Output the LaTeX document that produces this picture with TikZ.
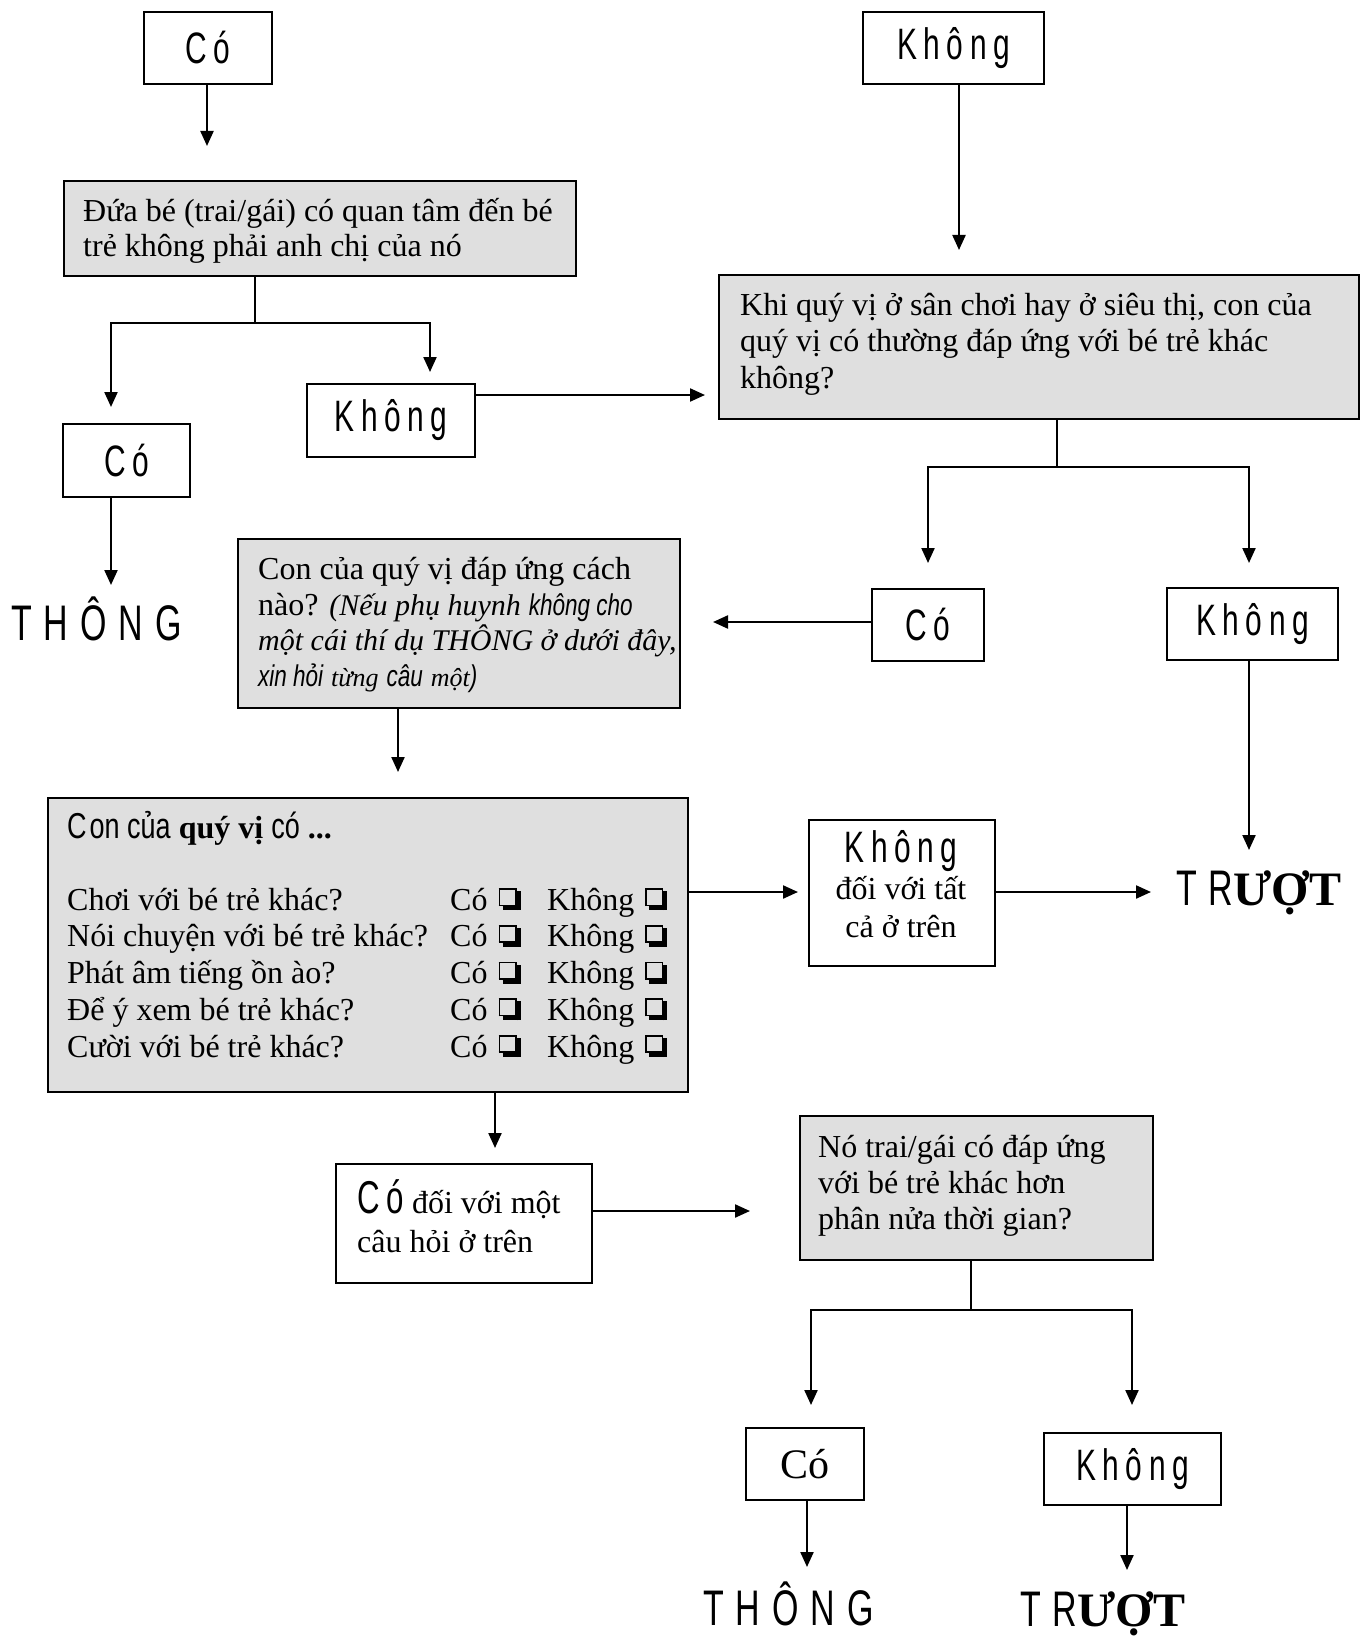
\documentclass[tikz,border=0pt]{standalone}
\usepackage{fontspec}
\setmainfont{Liberation Serif}
\newfontfamily\lblfont[FakeStretch=0.68,LetterSpace=15]{Liberation Sans}
\newfontfamily\bigfont[FakeStretch=0.68,LetterSpace=24]{Liberation Sans}
\newfontfamily\condfont[FakeStretch=0.75]{Liberation Sans}
\usetikzlibrary{arrows.meta}
\definecolor{boxgray}{RGB}{223,223,223}
\newcommand{\myfs}[2]{\fontsize{#1pt}{#2pt}\selectfont}
\newcommand{\chk}{{\hspace{3pt}\setlength{\unitlength}{1pt}\begin{picture}(23,21)
\put(0,4){\rule{18pt}{1.6pt}}
\put(0,20.4){\rule{18pt}{1.6pt}}
\put(0,4){\rule{1.6pt}{18pt}}
\put(16.4,4){\rule{1.6pt}{18pt}}
\put(18,0){\rule{4pt}{19pt}}
\put(4,0){\rule{18pt}{4pt}}
\end{picture}}}
\newcommand{\qrow}[1]{\makebox[383pt][l]{#1}\makebox[97pt][l]{Có \chk}Không \chk}

\begin{document}
\begin{tikzpicture}[x=1pt,y=-1pt,
  box/.style={draw, line width=2pt, inner sep=0pt, anchor=north west},
  gbox/.style={box, fill=boxgray},
  lbl/.style={font=\lblfont\myfs{44}{44}},
  conn/.style={line width=2.2pt},
  arr/.style={conn, -{Triangle[length=15pt,width=13pt]}},
  txt/.style={inner sep=0pt, anchor=base west, align=left},
]
\useasboundingbox (0,0) rectangle (1361,1637);
\fill[white] (0,0) rectangle (1361,1637);

% ---- boxes ----
\node[box, lbl, minimum width=128pt, minimum height=72pt] (co1) at (143,11) {Có};
\node[box, lbl, minimum width=181pt, minimum height=72pt] (kh1) at (862,11) {Không};
\node[gbox, minimum width=512pt, minimum height=95pt] (g1) at (63,180) {};
\node[box, lbl, minimum width=127pt, minimum height=73pt] (co2) at (62,423) {Có};
\node[box, lbl, minimum width=168pt, minimum height=73pt] (kh2) at (306,383) {Không};
\node[gbox, minimum width=640pt, minimum height=144pt] (g2) at (718,274) {};
\node[box, lbl, minimum width=112pt, minimum height=72pt] (co3) at (871,588) {Có};
\node[box, lbl, minimum width=171pt, minimum height=72pt] (kh3) at (1166,587) {Không};
\node[gbox, minimum width=442pt, minimum height=169pt] (g3) at (237,538) {};
\node[gbox, minimum width=640pt, minimum height=294pt] (g4) at (47,797) {};
\node[box, minimum width=186pt, minimum height=146pt] (kh4) at (808,819) {};
\node[box, minimum width=256pt, minimum height=119pt] (co5) at (335,1163) {};
\node[gbox, minimum width=353pt, minimum height=144pt] (g5) at (799,1115) {};
\node[box, font=\myfs{42}{42}, minimum width=118pt, minimum height=72pt] (co6) at (745,1427) {Có};
\node[box, lbl, minimum width=177pt, minimum height=72pt] (kh6) at (1043,1432) {Không};

% ---- texts (anchored at the baseline of their last line) ----
\node[txt, font=\myfs{32}{35}] (g1t) at (83,256) {Đứa bé (trai/gái) có quan tâm đến bé\\trẻ không phải anh chị của nó};
\node[txt, font=\myfs{32}{36.5}] (g2t) at (740,388) {Khi quý vị ở sân chơi hay ở siêu thị, con của\\quý vị có thường đáp ứng với bé trẻ khác\\không?};
\node[txt, font=\myfs{32}{35.5}] (g3t) at (258,686) {Con của quý vị đáp ứng cách\\
nào? {\itshape\myfs{30}{35.5}(Nếu phụ huynh} {\condfont\itshape\myfs{30}{35.5}không cho}\\
{\itshape\myfs{30}{35.5}một cái thí dụ THÔNG ở dưới đây,}\\
{\condfont\itshape\myfs{30}{35.5}xin hỏi} {\itshape\myfs{26}{35.5}từng} {\condfont\itshape\myfs{30}{35.5}câu} {\itshape\myfs{26}{35.5}một}{\condfont\itshape\myfs{30}{35.5})}};
\node[txt, font=\myfs{32}{36.7}] (g4h) at (67,838) {{\condfont\myfs{36}{36}C\kern3pt on của} {\bfseries quý vị} {\condfont\myfs{36}{36}có} {\bfseries ...}};
\node[txt, font=\myfs{32}{36.7}] (g4r) at (67,1057) {\qrow{Chơi với bé trẻ khác?}\\\qrow{Nói chuyện với bé trẻ khác?}\\\qrow{Phát âm tiếng ồn ào?}\\\qrow{Để ý xem bé trẻ khác?}\\\qrow{Cười với bé trẻ khác?}};
\node[inner sep=0pt, anchor=base, align=center, font=\myfs{32}{37.5}] (kh4t) at (901,937) {{\lblfont\myfs{44}{44}Không}\\đối với tất\\cả ở trên};
\node[txt, font=\myfs{32}{39}] (co5t) at (357,1252) {{\lblfont\myfs{46}{46}Có} đối với một\\câu hỏi ở trên};
\node[txt, font=\myfs{32}{36}] (g5t) at (818,1229) {Nó trai/gái có đáp ứng\\với bé trẻ khác hơn\\phân nửa thời gian?};

\node[inner sep=0pt, anchor=base west, font=\bigfont\myfs{50}{50}] (thong1) at (11,640) {THÔNG};
\node[inner sep=0pt, anchor=base west, font=\bigfont\myfs{50}{50}] (thong2) at (703,1625) {THÔNG};
\node[inner sep=0pt, anchor=base west] (truot1) at (1176,905) {{\bigfont\myfs{50}{50}TR}{\bfseries\myfs{48}{48}ƯỢT}};
\node[inner sep=0pt, anchor=base west] (truot2) at (1020,1626) {{\bigfont\myfs{50}{50}TR}{\bfseries\myfs{48}{48}ƯỢT}};

% ---- connector end points ----
\coordinate (e1) at (207,146);
\coordinate (e2) at (959,250);
\coordinate (b1) at (255,323);
\coordinate (t1L) at (111,407);
\coordinate (t1R) at (430,372);
\coordinate (a2) at (705,395);
\coordinate (tL1) at (111,585);
\coordinate (b2) at (1057,467);
\coordinate (t2L) at (928,563);
\coordinate (t2R) at (1249,563);
\coordinate (a3) at (713,622);
\coordinate (t3) at (1249,850);
\coordinate (a4) at (398,772);
\coordinate (a5) at (798,892);
\coordinate (a6) at (1151,892);
\coordinate (a7) at (495,1148);
\coordinate (a8) at (750,1211);
\coordinate (b5) at (971,1310);
\coordinate (t5L) at (811,1405);
\coordinate (t5R) at (1132,1405);
\coordinate (a9) at (807,1567);
\coordinate (a10) at (1127,1570);

% ---- connectors ----
\draw[arr] (e1 |- co1.south) -- (e1);
\draw[arr] (e2 |- kh1.south) -- (e2);
\draw[conn] (b1 |- g1.south) -- (b1);
\draw[arr] (b1) -| (t1L);
\draw[arr] (b1) -| (t1R);
\draw[arr] (a2 -| kh2.east) -- (a2);
\draw[arr] (tL1 |- co2.south) -- (tL1);
\draw[conn] (b2 |- g2.south) -- (b2);
\draw[arr] (b2) -| (t2L);
\draw[arr] (b2) -| (t2R);
\draw[arr] (a3 -| co3.west) -- (a3);
\draw[arr] (t3 |- kh3.south) -- (t3);
\draw[arr] (a4 |- g3.south) -- (a4);
\draw[arr] (a5 -| g4.east) -- (a5);
\draw[arr] (a6 -| kh4.east) -- (a6);
\draw[arr] (a7 |- g4.south) -- (a7);
\draw[arr] (a8 -| co5.east) -- (a8);
\draw[conn] (b5 |- g5.south) -- (b5);
\draw[arr] (b5) -| (t5L);
\draw[arr] (b5) -| (t5R);
\draw[arr] (a9 |- co6.south) -- (a9);
\draw[arr] (a10 |- kh6.south) -- (a10);
\end{tikzpicture}
\end{document}
